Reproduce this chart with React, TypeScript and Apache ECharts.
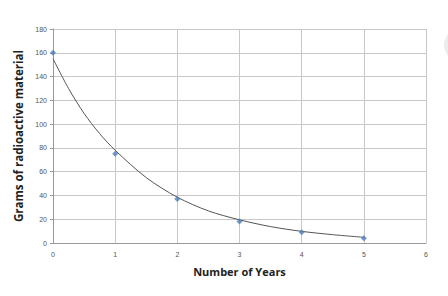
import React, { useEffect, useRef } from "react";
import * as echarts from "echarts";

const years = [0, 1, 2, 3, 4, 5];
const grams = [160, 75, 37, 18, 9, 4];
const trendX = [0, 0.25, 0.5, 0.75, 1, 1.5, 2, 2.5, 3, 3.5, 4, 4.5, 5];
const trendY = [155, 130, 109, 92, 78, 55, 38.5, 27, 19.5, 13.8, 9.8, 7, 4.8];
const xTicks = [0, 1, 2, 3, 4, 5, 6];
const yTicks = [0, 20, 40, 60, 80, 100, 120, 140, 160, 180];

export default function App() {
  const ref = useRef<HTMLDivElement>(null);
  useEffect(() => {
    if (!ref.current) return;
    const chart = echarts.init(ref.current, undefined, { renderer: "svg" });
    chart.setOption({
      animation: false,
      backgroundColor: "#ffffff",
      grid: { left: 53, right: 22, top: 29, bottom: 53 },
      xAxis: {
        type: "value",
        min: xTicks[0],
        max: xTicks[xTicks.length - 1],
        interval: 1,
        name: "Number of Years",
        nameLocation: "middle",
        nameGap: 23,
        nameTextStyle: { fontFamily: "Open Sans", fontWeight: "bold", fontSize: 11, color: "#222" },
        axisLine: { lineStyle: { color: "#999", width: 1 } },
        axisTick: { show: false },
        axisLabel: { fontFamily: "Liberation Sans", fontSize: 7, color: "#555", margin: 8 },
        splitLine: { show: true, lineStyle: { color: "#c8c8c8", width: 1 } },
      },
      yAxis: {
        type: "value",
        min: yTicks[0],
        max: yTicks[yTicks.length - 1],
        interval: 20,
        name: "Grams of radioactive material",
        nameLocation: "middle",
        nameGap: 29,
        nameTextStyle: { fontFamily: "Open Sans", fontWeight: "bold", fontSize: 11.5, color: "#222" },
        axisLine: { show: true, lineStyle: { color: "#999", width: 1 } },
        axisTick: { show: true, length: 3, lineStyle: { color: "#999" } },
        axisLabel: { fontFamily: "Liberation Sans", fontSize: 7, color: "#555", margin: 6 },
        splitLine: { show: true, lineStyle: { color: "#c8c8c8", width: 1 } },
      },
      series: [
        {
          type: "line",
          data: trendX.map((x, i) => [x, trendY[i]]),
          smooth: 0.3,
          showSymbol: false,
          lineStyle: { color: "#555", width: 1 },
          z: 2,
        },
        {
          type: "scatter",
          data: years.map((x, i) => [x, grams[i]]),
          symbol: "diamond",
          symbolSize: 6,
          itemStyle: { color: "#4a7ebb" },
          z: 3,
        },
      ],
      graphic: [
        {
          type: "circle",
          shape: { cx: 460, cy: 45, r: 16 },
          style: { fill: "#ececec" },
        },
      ],
    });
    return () => chart.dispose();
  }, []);
  return (
    <div
      ref={ref}
      style={{ position: "fixed", left: 0, top: 0, width: 448, height: 296 }}
    />
  );
}
